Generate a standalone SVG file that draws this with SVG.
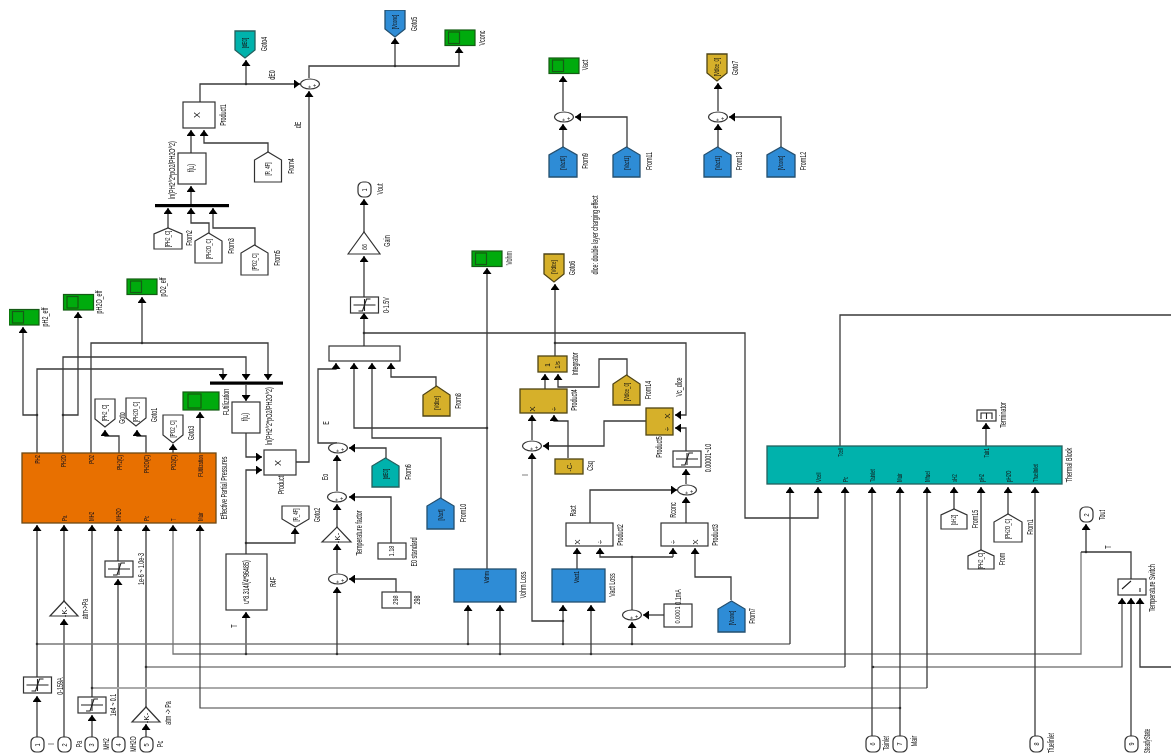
<svg xmlns="http://www.w3.org/2000/svg" xmlns:xlink="http://www.w3.org/1999/xlink" width="1171" height="756" viewBox="0 0 1171 756">
<style>
text{font-family:"Liberation Sans",Arial,sans-serif;font-size:9px;fill:#111;text-anchor:middle}
.p{font-size:8px}
.m{font-size:6px}
.e{text-anchor:end}
.s{text-anchor:start}
.w{fill:#fff;stroke:#333;stroke-width:1.2}
.o{fill:#e86f05;stroke:#6e4a18;stroke-width:1.3}
.tl{fill:#00b2ac;stroke:#25605e;stroke-width:1.3}
.b{fill:#2f8cd6;stroke:#25506f;stroke-width:1.3}
.g{fill:#d6b02c;stroke:#4f4518;stroke-width:1.3}
.sc{fill:#06ab0a;stroke:#125a16;stroke-width:1.2}
.in{fill:none;stroke:#125a16;stroke-width:1.2}
.c{fill:none;stroke:#3a3a3a;stroke-width:1.3}
.a{marker-end:url(#ah)}
.l{stroke:#777}
.h{stroke:#aaa;stroke-width:1.9}
.k{stroke:#444;stroke-width:1.2}
.d{fill:none;stroke:#333;stroke-width:2.6;stroke-linecap:round}
.bus{fill:#000}
.ic{fill:none;stroke:#222;stroke-width:1.1}
</style>
<defs>
<filter id="soft" x="0" y="0" width="100%" height="100%"><feGaussianBlur stdDeviation="0.35"/></filter>
<marker id="ah" markerUnits="userSpaceOnUse" markerWidth="9" markerHeight="9" refX="6" refY="4.5" orient="auto"><path d="M0 0L6 4.5L0 9z" fill="#000"/></marker>
<g id="sat"><rect class="w" x="-14" y="-8" width="28" height="16"/><path class="ic" d="M-11 0H11M-6 6H-2L2 -6H6"/><path class="ic" d="M0 -6V6"/></g>
<g id="scope"><rect class="sc" x="0" y="0" width="30" height="15.500"/><rect class="in" x="3.500" y="2" width="11" height="11.500"/></g>
<g id="sum"><ellipse class="w" cx="0" cy="0" rx="9.500" ry="5"/><text class="m" transform="translate(1 3) rotate(-90)">+</text><text class="m" transform="translate(6 1.500) rotate(-90)">+</text></g>
<path id="fromw" class="w" d="M-13.500 15V-7L0 -15L13.500 -7V15Z"/>
<path id="gotow" class="w" d="M-10 -14V6L0 14L10 6V-14Z"/>
</defs>
<rect width="1171" height="756" fill="#fff"/>
<g filter="url(#soft)">

<g id="connectors">
<path class="c a" d="M37 453V369H223V380"/>
<path class="c a" d="M63 453V357H246V380"/>
<path class="c a" d="M91 453V343H268V380"/>
<path class="c a" d="M142 343V297"/>
<path class="c a" d="M37 415H23V327"/>
<path class="c a" d="M63 415H78V312"/>
<path class="c a" d="M119 453V436H105V430"/>
<path class="c a" d="M146 453V436H137V430"/>
<path class="c a" d="M173 453V444"/>
<path class="c a" d="M200 453V412"/>
<path class="c a" d="M246 385V401"/>
<path class="c a" d="M246 433V457H262"/>
<path class="c a" d="M246 554V470H262"/>
<path class="c a" d="M246 543H295V528"/>
<path class="c a" d="M246 654V612"/>
<path class="c a" d="M296 462H309V91"/>
<path class="c a" d="M37 737V696"/>
<path class="c a" d="M37 677V525"/>
<path class="c a" d="M64 737V619"/>
<path class="c a" d="M64 601V525"/>
<path class="c a" d="M92 737V715"/>
<path class="c a" d="M92 697V525"/>
<path class="c a" d="M118 737V579"/>
<path class="c a" d="M118 561V525"/>
<path class="c a" d="M146 737V724"/>
<path class="c a" d="M146 707V525"/>
<path class="c l" d="M37 644H790"/>
<path class="c a" d="M790 644V487"/>
<path class="c l a" d="M1081 552V654H173V525"/>
<path class="c k" d="M146 667H845"/>
<path class="c a" d="M845 667V487"/>
<path class="c h" d="M92 688H927"/>
<path class="c a" d="M927 688V487"/>
<path class="c k a" d="M900 708H200V525"/>
<path class="c a" d="M872 736V487"/>
<path class="c a" d="M900 736V487"/>
<path class="c a" d="M1035 736V487"/>
<path class="c k a" d="M873 667H1122V598"/>
<path class="c a" d="M1131 736V598"/>
<path class="c a" d="M1171 667H1140V598"/>
<path class="c" d="M1081 552H1131V579"/>
<path class="c a" d="M1086 552V524"/>
<path class="c a" d="M200 102V84H300"/>
<path class="c a" d="M246 84V60"/>
<path class="c a" d="M309 78V66H459V47"/>
<path class="c a" d="M395 66V38"/>
<path class="c a" d="M191 153V130"/>
<path class="c a" d="M268 152V143H204V130"/>
<path class="c a" d="M191 205V186"/>
<path class="c a" d="M168 228V208"/>
<path class="c a" d="M209 233V223H191V208"/>
<path class="c a" d="M255 245V228H213V208"/>
<path class="c a" d="M337 654V587"/>
<path class="c a" d="M396 592V579H349"/>
<path class="c a" d="M337 573V544"/>
<path class="c a" d="M337 527V504"/>
<path class="c a" d="M391 543V497H349"/>
<path class="c a" d="M337 491V455"/>
<path class="c a" d="M386 458V448H349"/>
<path class="c a" d="M337 443H318V369H336V363"/>
<path class="c a" d="M487 428H354V363"/>
<path class="c a" d="M441 498V438H372V363"/>
<path class="c a" d="M436 386V377H391V363"/>
<path class="c a" d="M364 346V313"/>
<path class="c a" d="M364 297V256"/>
<path class="c a" d="M364 232V199"/>
<path class="c a" d="M364 333H745V518H818V487"/>
<path class="c" d="M840 446V315H1171"/>
<path class="c a" d="M986 446V423"/>
<path class="c a" d="M954 509V487"/>
<path class="c a" d="M981 550V487"/>
<path class="c a" d="M1008 514V487"/>
<path class="c a" d="M487 569V268"/>
<path class="c a" d="M468 644V605"/>
<path class="c a" d="M500 654V605"/>
<path class="c a" d="M563 644V605"/>
<path class="c a" d="M591 654V605"/>
<path class="c a" d="M563 621H532V453"/>
<path class="c a" d="M577 569V548"/>
<path class="c a" d="M673 557H600V548"/>
<path class="c a" d="M673 557V548"/>
<path class="c" d="M632 557V610"/>
<path class="c a" d="M632 644V622"/>
<path class="c a" d="M664 615H643"/>
<path class="c a" d="M731 600V577H695V548"/>
<path class="c a" d="M590 523V490H677"/>
<path class="c a" d="M686 523V497"/>
<path class="c a" d="M686 484V469"/>
<path class="c a" d="M686 451V428H675"/>
<path class="c a" d="M555 343H686V415H675"/>
<path class="c a" d="M646 421H604V446H543"/>
<path class="c a" d="M532 440V415"/>
<path class="c a" d="M568 458V421H554V415"/>
<path class="c a" d="M545 389V374"/>
<path class="c a" d="M627 375V359H599V387H558V374"/>
<path class="c a" d="M555 356V284"/>
<path class="c a" d="M563 111V76"/>
<path class="c a" d="M563 147V124"/>
<path class="c a" d="M627 147V117H575"/>
<path class="c a" d="M718 111V83"/>
<path class="c a" d="M718 147V124"/>
<path class="c a" d="M781 147V117H729"/>
<path class="d" d="M37 415h0M63 415h0M142 343h0M246 84h0M395 66h0M246 543h0M246 654h0M337 654h0M468 644h0M500 654h0M563 644h0M591 654h0M632 644h0M37 644h0M146 667h0M92 688h0M873 667h0M900 708h0M1086 552h0M364 333h0M487 428h0M555 343h0M632 557h0M563 621h0"/>
</g>

<g id="block-effective-partial-pressures">
<rect class="o" x="22" y="453" width="194" height="70"/>
<text class="p e" transform="translate(40 455) rotate(-90) scale(.55 1)">PH2</text>
<text class="p e" transform="translate(66 455) rotate(-90) scale(.55 1)">PH2O</text>
<text class="p e" transform="translate(94 455) rotate(-90) scale(.55 1)">PO2</text>
<text class="p e" transform="translate(122 455) rotate(-90) scale(.55 1)">PH2(C)</text>
<text class="p e" transform="translate(149 455) rotate(-90) scale(.55 1)">PH2O(C)</text>
<text class="p e" transform="translate(176 455) rotate(-90) scale(.55 1)">PO2(C)</text>
<text class="p e" transform="translate(203 455) rotate(-90) scale(.55 1)">FUtilization</text>
<text class="p s" transform="translate(67 521) rotate(-90) scale(.55 1)">Pa</text>
<text class="p s" transform="translate(94 521) rotate(-90) scale(.55 1)">MH2</text>
<text class="p s" transform="translate(121 521) rotate(-90) scale(.55 1)">MH2O</text>
<text class="p s" transform="translate(149 521) rotate(-90) scale(.55 1)">Pc</text>
<text class="p s" transform="translate(176 521) rotate(-90) scale(.55 1)">T</text>
<text class="p s" transform="translate(203 521) rotate(-90) scale(.55 1)">Mair</text>
<text transform="translate(227 488) rotate(-90) scale(.6 1)">Effective Partial Pressures</text>
</g>

<g id="scope-pH2_eff"><use xlink:href="#scope" x="9" y="309.500"/><text transform="translate(48 317) rotate(-90) scale(.6 1)">pH2_eff</text></g>
<g id="scope-pH2O_eff"><use xlink:href="#scope" x="63.500" y="294.500"/><text transform="translate(102 302) rotate(-90) scale(.6 1)">pH2O_eff</text></g>
<g id="scope-pO2_eff"><use xlink:href="#scope" x="127" y="279"/><text transform="translate(166 287) rotate(-90) scale(.6 1)">pO2_eff</text></g>
<g id="scope-fu"><rect class="sc" x="183" y="392" width="36" height="18"/><rect class="in" x="188" y="394" width="13" height="14"/></g>

<g id="goto"><use xlink:href="#gotow" x="105" y="413"/><text class="p" transform="translate(107 413) rotate(-90) scale(.55 1)">[PH2_C]</text><text transform="translate(125 418) rotate(-90) scale(.6 1)">Goto</text></g>
<g id="goto1"><use xlink:href="#gotow" x="136" y="412"/><text class="p" transform="translate(138 412) rotate(-90) scale(.55 1)">[PH2O_C]</text><text transform="translate(157 415) rotate(-90) scale(.6 1)">Goto1</text></g>
<g id="goto3"><use xlink:href="#gotow" x="173" y="429"/><text class="p" transform="translate(175 429) rotate(-90) scale(.55 1)">[PO2_C]</text><text transform="translate(194 433) rotate(-90) scale(.6 1)">Goto3</text></g>

<g id="fu-bus"><rect class="bus" x="210" y="381.500" width="73" height="3.200"/><text transform="translate(229 402) rotate(-90) scale(.6 1)">FUtilization</text></g>
<g id="fu-1"><rect class="w" x="232" y="402" width="28" height="31"/><text transform="translate(248 417) rotate(-90) scale(.6 1)">f(u)</text><text transform="translate(272 416) rotate(-90) scale(.6 1)">ln(PH2^2*pO2/PH2O^2)</text></g>
<g id="product"><rect class="w" x="264" y="450" width="32" height="25"/><text transform="translate(281 463) rotate(-90)">X</text><text transform="translate(284 485) rotate(-90) scale(.6 1)">Product</text></g>
<g id="goto2"><path class="w" d="M282 506V519L295.500 527L309 519V506Z"/><text class="p" transform="translate(298 515) rotate(-90) scale(.55 1)">[R_4F]</text><text transform="translate(320 515) rotate(-90) scale(.6 1)">Goto2</text></g>
<g id="r4f"><rect class="w" x="226" y="554" width="41" height="56"/><text transform="translate(249 582) rotate(-90) scale(.6 1)">u*8.314/(4*96485)</text><text transform="translate(276 582) rotate(-90) scale(.6 1)">R4F</text><text transform="translate(237 626) rotate(-90) scale(.6 1)">T</text></g>

<g id="sat-i"><use xlink:href="#sat" x="37.500" y="685"/><text transform="translate(63 686) rotate(-90) scale(.6 1)">0-159A</text></g>
<g id="gain-pa"><path class="w" d="M50 616L64 601L78 616Z"/><text class="p" transform="translate(67 612) rotate(-90)">-K-</text><text transform="translate(88 609) rotate(-90) scale(.6 1)">atm-&gt;Pa</text></g>
<g id="sat-mh2"><use xlink:href="#sat" x="92" y="705"/><text transform="translate(116 705) rotate(-90) scale(.6 1)">1e4 ~ 0.1</text></g>
<g id="sat-mh2o"><use xlink:href="#sat" x="119" y="569"/><text transform="translate(144 569) rotate(-90) scale(.6 1)">1e-6 ~ 1.0e-3</text></g>
<g id="gain-pc"><path class="w" d="M132 722L146 707L160 722Z"/><text class="p" transform="translate(149 718) rotate(-90)">-K-</text><text transform="translate(171 713) rotate(-90) scale(.6 1)">atm -&gt; Pa</text></g>

<g id="in1"><rect class="w" x="31" y="737" width="13" height="15" rx="5"/><text class="p" transform="translate(40 745) rotate(-90) scale(.7 1)">1</text><text transform="translate(54 744) rotate(-90) scale(.6 1)">I</text></g>
<g id="in2"><rect class="w" x="58" y="737" width="13" height="15" rx="5"/><text class="p" transform="translate(67 745) rotate(-90) scale(.7 1)">2</text><text transform="translate(82 744) rotate(-90) scale(.6 1)">Pa</text></g>
<g id="in3"><rect class="w" x="85" y="737" width="13" height="15" rx="5"/><text class="p" transform="translate(94 745) rotate(-90) scale(.7 1)">3</text><text transform="translate(109 744) rotate(-90) scale(.6 1)">MH2</text></g>
<g id="in4"><rect class="w" x="112" y="737" width="13" height="15" rx="5"/><text class="p" transform="translate(121 745) rotate(-90) scale(.7 1)">4</text><text transform="translate(136 744) rotate(-90) scale(.6 1)">MH2O</text></g>
<g id="in5"><rect class="w" x="140" y="737" width="13" height="15" rx="5"/><text class="p" transform="translate(149 745) rotate(-90) scale(.7 1)">5</text><text transform="translate(163 744) rotate(-90) scale(.6 1)">Pc</text></g>

<g id="product1"><rect class="w" x="183" y="102" width="32" height="26"/><text transform="translate(200 115) rotate(-90)">X</text><text transform="translate(226 115) rotate(-90) scale(.6 1)">Product1</text></g>
<g id="fu-2"><rect class="w" x="178" y="153" width="28" height="31"/><text transform="translate(194 168) rotate(-90) scale(.6 1)">f(u)</text><text transform="translate(175 170) rotate(-90) scale(.6 1)">ln(PH2^2*pO2/PH2O^2)</text></g>
<g id="bus2"><rect class="bus" x="155" y="204" width="74" height="3.200"/></g>
<g id="from2"><path class="w" d="M154 249V234L168 228L182 234V249Z"/><text class="p" transform="translate(170 239) rotate(-90) scale(.55 1)">[PH2_C]</text><text transform="translate(192 238) rotate(-90) scale(.6 1)">From2</text></g>
<g id="from3"><use xlink:href="#fromw" x="208.500" y="248"/><text class="p" transform="translate(211 249) rotate(-90) scale(.55 1)">[PH2O_C]</text><text transform="translate(234 246) rotate(-90) scale(.6 1)">From3</text></g>
<g id="from5"><use xlink:href="#fromw" x="254.500" y="260"/><text class="p" transform="translate(257 262) rotate(-90) scale(.55 1)">[PO2_C]</text><text transform="translate(280 258) rotate(-90) scale(.6 1)">From5</text></g>
<g id="from4"><use xlink:href="#fromw" x="268" y="167"/><text class="p" transform="translate(270 169) rotate(-90) scale(.55 1)">[R_4F]</text><text transform="translate(294 166) rotate(-90) scale(.6 1)">From4</text></g>
<g id="goto4"><path class="tl" d="M235 31V50L245 58L255 50V31Z"/><text class="p" transform="translate(247 43) rotate(-90) scale(.55 1)">[dE0]</text><text transform="translate(267 44) rotate(-90) scale(.6 1)">Goto4</text></g>
<g id="goto5"><path class="b" d="M385 10V29L395 37L405 29V10Z"/><text class="p" transform="translate(397 22) rotate(-90) scale(.55 1)">[Vconc]</text><text transform="translate(417 24) rotate(-90) scale(.6 1)">Goto5</text></g>
<g id="scope-vconc"><use xlink:href="#scope" x="445" y="30"/><text transform="translate(485 38) rotate(-90) scale(.6 1)">Vconc</text></g>
<g id="sum-vconc"><use xlink:href="#sum" x="310" y="84"/><text transform="translate(275 75) rotate(-90) scale(.6 1)">dE0</text><text transform="translate(301 125) rotate(-90) scale(.6 1)">dE</text></g>

<g id="gain"><path class="w" d="M348 254L364 232L380 254Z"/><text class="p" transform="translate(367 247) rotate(-90) scale(.7 1)">66</text><text transform="translate(390 241) rotate(-90) scale(.6 1)">Gain</text></g>
<g id="vout"><rect class="w" x="358" y="182" width="13" height="15" rx="5"/><text class="p" transform="translate(367 190) rotate(-90) scale(.7 1)">1</text><text transform="translate(383 189) rotate(-90) scale(.6 1)">Vout</text></g>
<g id="sat-v"><use xlink:href="#sat" x="364.500" y="305"/><text transform="translate(389 305) rotate(-90) scale(.6 1)">0-1.5V</text></g>
<g id="sum4"><rect class="w" x="329" y="346" width="71" height="15"/></g>
<g id="from8"><path class="g" d="M423 416V395L436.500 386L450 395V416Z"/><text class="p" transform="translate(439 403) rotate(-90) scale(.55 1)">[Vdlce]</text><text transform="translate(461 401) rotate(-90) scale(.6 1)">From8</text></g>
<g id="sum-e"><use xlink:href="#sum" x="338" y="448"/><text transform="translate(329 423) rotate(-90) scale(.6 1)">E</text></g>
<g id="from6"><path class="tl" d="M372 487V466L385.500 458L399 466V487Z"/><text class="p" transform="translate(388 474) rotate(-90) scale(.55 1)">[dE0]</text><text transform="translate(411 472) rotate(-90) scale(.6 1)">From6</text></g>
<g id="sum-eo"><use xlink:href="#sum" x="337" y="497"/><text transform="translate(328 477) rotate(-90) scale(.6 1)">Eo</text></g>
<g id="from10"><path class="b" d="M427 529V506L440.500 498L454 506V529Z"/><text class="p" transform="translate(443 515) rotate(-90) scale(.55 1)">[Vact]</text><text transform="translate(466 513) rotate(-90) scale(.6 1)">From10</text></g>
<g id="gain-t"><path class="w" d="M322 542L337 527L351 542Z"/><text class="p" transform="translate(340 538) rotate(-90)">-K-</text><text transform="translate(362 533) rotate(-90) scale(.6 1)">Temperature factor</text></g>
<g id="e0"><rect class="w" x="378" y="543" width="28" height="16"/><text class="p" transform="translate(394 551) rotate(-90) scale(.7 1)">1.18</text><text transform="translate(417 552) rotate(-90) scale(.6 1)">E0 standard</text></g>
<g id="sum-298"><use xlink:href="#sum" x="338" y="579"/></g>
<g id="c298"><rect class="w" x="382" y="592" width="29" height="16"/><text class="p" transform="translate(398 600) rotate(-90) scale(.7 1)">298</text><text transform="translate(420 600) rotate(-90) scale(.6 1)">298</text></g>

<g id="vohm-loss"><rect class="b" x="454" y="569" width="62" height="33"/><text class="p e" transform="translate(489 571) rotate(-90) scale(.6 1)">Vohm</text><text transform="translate(526 585) rotate(-90) scale(.6 1)">Vohm Loss</text></g>
<g id="scope-vohm"><use xlink:href="#scope" x="472" y="251"/><text transform="translate(512 258) rotate(-90) scale(.6 1)">Vohm</text></g>
<g id="vact-loss"><rect class="b" x="552" y="569" width="53" height="33"/><text class="p e" transform="translate(579 571) rotate(-90) scale(.6 1)">Vact1</text><text transform="translate(615 585) rotate(-90) scale(.6 1)">Vact Loss</text></g>
<g id="product2"><rect class="w" x="566" y="523" width="47" height="23"/><text class="p" transform="translate(580 542) rotate(-90)">X</text><text class="p" transform="translate(603 542) rotate(-90)">÷</text><text transform="translate(623 535) rotate(-90) scale(.6 1)">Product2</text><text transform="translate(576 511) rotate(-90) scale(.6 1)">Ract</text></g>
<g id="product3"><rect class="w" x="661" y="523" width="47" height="23"/><text class="p" transform="translate(676 542) rotate(-90)">÷</text><text class="p" transform="translate(698 542) rotate(-90)">X</text><text transform="translate(718 535) rotate(-90) scale(.6 1)">Product3</text><text transform="translate(676 510) rotate(-90) scale(.6 1)">Rconc</text></g>
<g id="sum-i"><use xlink:href="#sum" x="632" y="615"/></g>
<g id="c0001"><rect class="w" x="664" y="604" width="28" height="23"/><text class="p" transform="translate(680 615) rotate(-90) scale(.7 1)">0.0001</text><text transform="translate(681 597) rotate(-90) scale(.6 1)">0.1mA</text></g>
<g id="from7"><path class="b" d="M718 632V609L731.500 601L745 609V632Z"/><text class="p" transform="translate(734 618) rotate(-90) scale(.55 1)">[Vconc]</text><text transform="translate(755 616) rotate(-90) scale(.6 1)">From7</text></g>
<g id="sum-r"><use xlink:href="#sum" x="687" y="490"/></g>
<g id="sat-dlce"><use xlink:href="#sat" x="687" y="459"/><text transform="translate(711 458) rotate(-90) scale(.6 1)">0.00001~10</text></g>
<g id="product5"><rect class="g" x="646" y="408" width="27" height="27"/><text class="p" transform="translate(670 416) rotate(-90)">X</text><text class="p" transform="translate(670 429) rotate(-90)">÷</text><text transform="translate(662 447) rotate(-90) scale(.6 1)">Product5</text><text transform="translate(682 387) rotate(-90) scale(.6 1)">Vc_dlce</text></g>
<g id="product4"><rect class="g" x="520" y="389" width="47" height="24"/><text class="p" transform="translate(535 409) rotate(-90)">X</text><text class="p" transform="translate(557 409) rotate(-90)">÷</text><text transform="translate(577 400) rotate(-90) scale(.6 1)">Product4</text></g>
<g id="integrator"><rect class="g" x="538" y="356" width="29" height="16"/><text class="p" transform="translate(550 365) rotate(-90) scale(.8 1)">1</text><text class="p" transform="translate(560 365) rotate(-90) scale(.7 1)">1/s</text><text transform="translate(578 364) rotate(-90) scale(.6 1)">Integrator</text></g>
<g id="sum-dl"><use xlink:href="#sum" x="532" y="446"/><text transform="translate(528 475) rotate(-90) scale(.6 1)">I</text></g>
<g id="csq"><rect class="g" x="555" y="459" width="28" height="15"/><text class="p" transform="translate(572 467) rotate(-90) scale(.8 1)">-C-</text><text transform="translate(593 466) rotate(-90) scale(.6 1)">Csq</text></g>
<g id="from14"><path class="g" d="M613 405V384L626.500 375L640 384V405Z"/><text class="p" transform="translate(629 392) rotate(-90) scale(.55 1)">[Vdlce_0]</text><text transform="translate(651 390) rotate(-90) scale(.6 1)">From14</text></g>
<g id="goto6"><path class="g" d="M544 254V274L554 282L564 274V254Z"/><text class="p" transform="translate(556 267) rotate(-90) scale(.55 1)">[Vdlce]</text><text transform="translate(575 268) rotate(-90) scale(.6 1)">Goto6</text></g>
<text id="note" transform="translate(598 235) rotate(-90) scale(.6 1)">dlce: double layer charging effect</text>

<g id="scope-vact"><use xlink:href="#scope" x="549" y="58"/><text transform="translate(588 65) rotate(-90) scale(.6 1)">Vact</text></g>
<g id="sum-vact"><use xlink:href="#sum" x="564" y="117"/></g>
<g id="from9"><path class="b" d="M549 177V155L563 147L577 155V177Z"/><text class="p" transform="translate(565 163) rotate(-90) scale(.55 1)">[Vact0]</text><text transform="translate(588 161) rotate(-90) scale(.6 1)">From9</text></g>
<g id="from11"><path class="b" d="M613 177V155L626.500 147L640 155V177Z"/><text class="p" transform="translate(629 163) rotate(-90) scale(.55 1)">[Vact1]</text><text transform="translate(652 161) rotate(-90) scale(.6 1)">From11</text></g>
<g id="goto7"><path class="g" d="M707 54V73L717 81L727 73V54Z"/><text class="p" transform="translate(719 67) rotate(-90) scale(.55 1)">[Vdlce_0]</text><text transform="translate(738 68) rotate(-90) scale(.6 1)">Goto7</text></g>
<g id="sum-vdl"><use xlink:href="#sum" x="718" y="117"/></g>
<g id="from13"><path class="b" d="M704 177V155L717.500 147L731 155V177Z"/><text class="p" transform="translate(720 163) rotate(-90) scale(.55 1)">[Vact1]</text><text transform="translate(742 161) rotate(-90) scale(.6 1)">From13</text></g>
<g id="from12"><path class="b" d="M767 177V155L781 147L795 155V177Z"/><text class="p" transform="translate(783 163) rotate(-90) scale(.55 1)">[Vconc]</text><text transform="translate(806 161) rotate(-90) scale(.6 1)">From12</text></g>

<g id="thermal-block">
<rect class="tl" x="767" y="446" width="295" height="38"/>
<text class="p e" transform="translate(843 448) rotate(-90) scale(.55 1)">Tcell</text>
<text class="p e" transform="translate(989 448) rotate(-90) scale(.55 1)">Tair1</text>
<text class="p s" transform="translate(821 482) rotate(-90) scale(.55 1)">Vcell</text>
<text class="p s" transform="translate(848 482) rotate(-90) scale(.55 1)">Pc</text>
<text class="p s" transform="translate(875 482) rotate(-90) scale(.55 1)">Tainlet</text>
<text class="p s" transform="translate(902 482) rotate(-90) scale(.55 1)">Mair</text>
<text class="p s" transform="translate(930 482) rotate(-90) scale(.55 1)">Mfuel</text>
<text class="p s" transform="translate(957 482) rotate(-90) scale(.55 1)">xH2</text>
<text class="p s" transform="translate(984 482) rotate(-90) scale(.55 1)">pH2</text>
<text class="p s" transform="translate(1011 482) rotate(-90) scale(.55 1)">pH2O</text>
<text class="p s" transform="translate(1038 482) rotate(-90) scale(.55 1)">Tfuelinlet</text>
<text transform="translate(1072 465) rotate(-90) scale(.6 1)">Thermal Block</text>
</g>
<g id="terminator"><rect class="w" x="977" y="410" width="19" height="11"/><path class="ic" d="M981 419V413H992V419M986.500 413V419"/><text transform="translate(1006 415) rotate(-90) scale(.6 1)">Terminator</text></g>
<g id="from15"><path class="w" d="M941 529V515L954 509L967 515V529Z"/><text class="p" transform="translate(956 520) rotate(-90) scale(.55 1)">[xH2]</text><text transform="translate(978 519) rotate(-90) scale(.6 1)">From15</text></g>
<g id="from"><path class="w" d="M968 569V556L981 550L994 556V569Z"/><text class="p" transform="translate(983 561) rotate(-90) scale(.55 1)">[PH2_C]</text><text transform="translate(1005 559) rotate(-90) scale(.6 1)">From</text></g>
<g id="from1"><path class="w" d="M994 542V522L1008 514L1022 522V542Z"/><text class="p" transform="translate(1010 529) rotate(-90) scale(.55 1)">[PH2O_C]</text><text transform="translate(1033 527) rotate(-90) scale(.6 1)">From1</text></g>
<g id="tout"><rect class="w" x="1080" y="507" width="13" height="15" rx="5"/><text class="p" transform="translate(1089 515) rotate(-90) scale(.7 1)">2</text><text transform="translate(1105 515) rotate(-90) scale(.6 1)">Tout</text><text transform="translate(1111 547) rotate(-90) scale(.6 1)">T</text></g>
<g id="switch"><rect class="w" x="1118" y="579" width="28" height="16"/><path class="ic" d="M1122 589L1131 581M1140 588V592"/><text transform="translate(1155 588) rotate(-90) scale(.6 1)">Temperature Switch</text></g>
<g id="in6"><rect class="w" x="866" y="736" width="14" height="16" rx="5"/><text class="p" transform="translate(875 744) rotate(-90) scale(.7 1)">6</text><text transform="translate(889 743) rotate(-90) scale(.55 1)">Tainlet</text></g>
<g id="in7"><rect class="w" x="893" y="736" width="14" height="16" rx="5"/><text class="p" transform="translate(902 744) rotate(-90) scale(.7 1)">7</text><text transform="translate(917 741) rotate(-90) scale(.6 1)">Mair</text></g>
<g id="in8"><rect class="w" x="1030" y="736" width="13" height="16" rx="5"/><text class="p" transform="translate(1039 744) rotate(-90) scale(.7 1)">8</text><text transform="translate(1054 743) rotate(-90) scale(.55 1)">Tfuelinlet</text></g>
<g id="in9"><rect class="w" x="1125" y="736" width="13" height="16" rx="5"/><text class="p" transform="translate(1134 744) rotate(-90) scale(.7 1)">9</text><text transform="translate(1150 741) rotate(-90) scale(.5 1)">SteadyState</text></g>
</g>
</svg>
